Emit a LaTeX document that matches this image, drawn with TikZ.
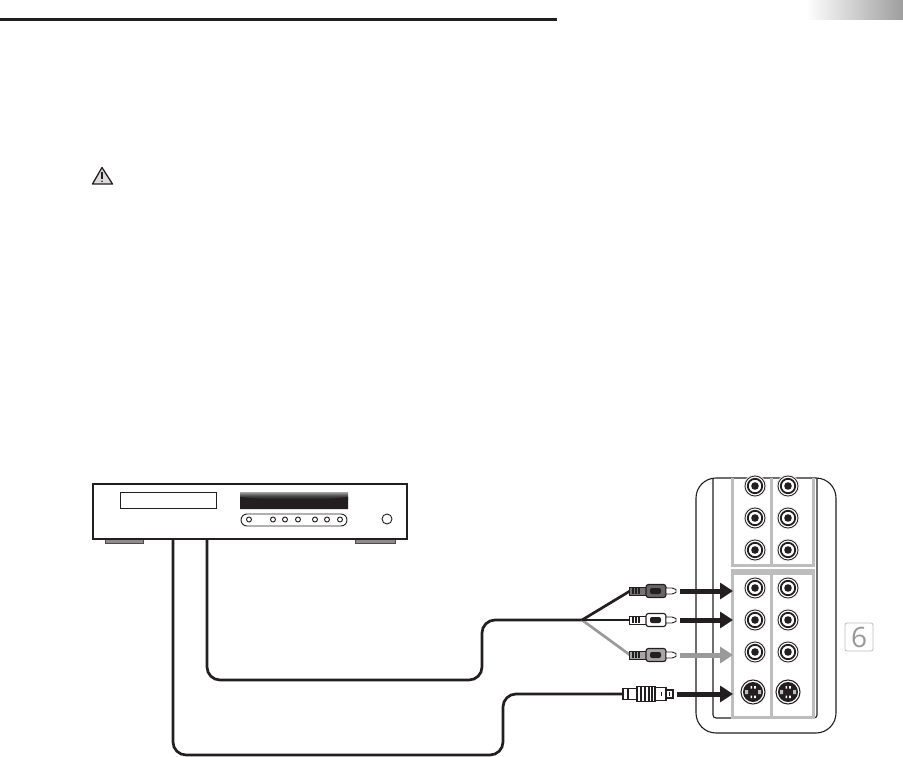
\documentclass[tikz,border=0pt]{standalone}
\usepackage{fontspec}
\setmainfont{Open Sans}
\usetikzlibrary{arrows.meta,calc}
\definecolor{ink}{HTML}{231F20}
\definecolor{panelgrey}{HTML}{BDBDBD}
\definecolor{arrowgrey}{HTML}{9A9A9A}
\tikzset{
  x=1pt,y=-1pt,
  box/.style={draw=ink,fill=white,inner sep=0pt,outer sep=0pt,anchor=north west},
  cable/.style={draw=ink,line width=2.7pt,rounded corners=13pt},
  plugarrow/.style={draw=#1,line width=5pt,-{Triangle[length=13pt,width=16pt]}},
  panelline/.style={draw=panelgrey,line width=3pt},
  pics/rca/.style args={#1/#2/#3}{code={
    \fill[#1,draw=ink,line width=.8pt] (-17,-4) rectangle (0,4);
    \foreach \i in {-13,-10,-7}{\draw[ink,line width=1.1pt] (\i,-3) -- (\i,3);}
    \draw[ink,fill=#2,line width=1.1pt,rounded corners=2.5pt] (0,-6.5) rectangle (20,6.5);
    \fill[#3,rounded corners=2pt] (4,-3) rectangle (15,3);
    \draw[ink,fill=white,line width=.9pt] (20,-3) -- (26,-3) -- (30,-1.5) -- (30,1.5) -- (26,3) -- (20,3) -- cycle;
  }},
  jack/.pic={
    \fill[black!8] (0,0) circle (11.5);
    \draw[ink,line width=.8pt,fill=white] (0,0) circle (10);
    \draw[ink,line width=1.8pt,fill=white] (0,0) circle (7.2);
    \fill[ink] (0,0) circle (3.8);
  },
  svideo/.pic={
    \fill[black!8] (0,0) circle (13);
    \draw[ink,line width=1pt,fill=white] (0,0) circle (12);
    \fill[ink] (0,0) circle (10);
    \fill[white!75!black] (-8,-2) rectangle (-5,2) (5,-2) rectangle (8,2);
    \fill[white] (-2.5,-6) rectangle (-.8,-3.5) (1.2,-6) rectangle (2.9,-3.5) (-2.5,3.5) rectangle (-.8,6) (1.2,3.5) rectangle (2.9,6);
  },
}
\begin{document}
\begin{tikzpicture}
\useasboundingbox (0,0) rectangle (903,757);
% header
\coordinate (ruleL) at (0,19.5);
\coordinate (ruleR) at (557,19.5);
\draw[ink,line width=2.2pt] (ruleL) -- (ruleR);
\shade[left color=white,right color=black!38] (806,0) rectangle (903,20);
% warning triangle
\draw[ink,fill=black!14,line width=1.3pt,line join=round] (102,167.5) -- (112.5,184) -- (92.5,184) -- cycle;
\draw[ink,line width=1.5pt] (102,172.5) -- (102,179);
\fill[ink] (102,181.2) circle (.9);
% CD player
\node[box,fill=black!45,draw=black!70,minimum width=38pt,minimum height=4.5pt] (footL) at (105,539) {};
\node[box,fill=black!45,draw=black!70,minimum width=40pt,minimum height=4.5pt] (footR) at (355,539) {};
\node[box,line width=1.3pt,minimum width=314pt,minimum height=55pt] (cd) at (93,484) {};
\node[box,line width=1pt,minimum width=96pt,minimum height=16pt] (display) at (120,492) {};
\shade[top color=black!35,bottom color=ink,middle color=black!70] (240,492) rectangle (348,499);
\fill[ink] (240,497) .. controls (280,501) and (310,501) .. (348,497) -- (348,509) -- (240,509) -- cycle;
\node[box,line width=.9pt,rounded corners=6pt,minimum width=106pt,minimum height=12pt] (pill) at (241,514) {};
\foreach \bx/\bn in {249/a,273/b,285/c,298/d,315/e,327/f,340/g}
  \node[circle,draw=ink,fill=white,line width=.9pt,inner sep=0pt,minimum size=5pt] (btn\bn) at (\bx,519.5) {};
\node[circle,draw=ink,fill=white,line width=.9pt,inner sep=0pt,minimum size=10pt] (knob) at (387,519) {};
% input panel
\node[box,line width=1.1pt,rounded corners=20pt,minimum width=140pt,minimum height=255pt] (panel) at (696,478) {};
\draw[ink,line width=1.1pt,rounded corners=3pt] (713,478) -- (713,718) -- (817,718) -- (817,478);
\draw[panelline] (732.5,478) -- (732.5,565) -- (813,565) -- (813,478);
\draw[panelline] (771,478) -- (771,565);
\fill[panelgrey] (731,569) rectangle (815,575);
\draw[panelline] (732.5,571) -- (732.5,717) -- (813,717) -- (813,571);
\draw[panelline] (771,571) -- (771,717);
\foreach \jy in {486,518,550,588,620,652}{
  \pic at (755,\jy) {jack};
  \pic at (788,\jy) {jack};
}
\pic at (753,692) {svideo};
\pic at (788,692) {svideo};
% connectors
\coordinate (outA) at (207,539.5);
\coordinate (outB) at (173,539.5);
\coordinate (split) at (582,620);
\coordinate (plugTop) at (630,591);
\coordinate (plugMid) at (630,620);
\coordinate (plugLow) at (630,655);
\coordinate (plugS) at (624,694);
\draw[cable] (outA) -- (207,680) -- (482,680) -- (482,620) -- (split);
\draw[cable] (outB) -- (173,755) -- (503,755) -- (503,694) -- (plugS);
\draw[draw=arrowgrey,line width=2.7pt] (split) -- (plugLow);
\draw[draw=ink,line width=2.7pt] (split) -- (plugMid);
\draw[draw=ink,line width=2.7pt] (split) -- (plugTop);
% plugs
\pic at (646,591) {rca={black!55/black!60/ink}};
\pic at (646,620) {rca={white/white/ink}};
\pic at (646,655) {rca={black!35/black!35/ink}};
% s-video plug
\node[box,line width=1.1pt,minimum width=14pt,minimum height=11pt] (sa) at (623,688.5) {};
\draw[ink,line width=1.1pt] (628,689) -- (628,699);
\node[box,line width=1.1pt,minimum width=18pt,minimum height=15pt] (sb) at (637,686.5) {};
\foreach \rx in {641,645,649,652}{\draw[ink,line width=1.2pt] (\rx,687) -- (\rx,701);}
\node[box,line width=1.1pt,minimum width=11pt,minimum height=13pt] (sc) at (655,687.5) {};
\node[box,line width=1.1pt,minimum width=7pt,minimum height=8pt] (sd) at (666,690) {};
\draw[ink,line width=.8pt] (661,692) -- (661,696) (669.5,692) -- (669.5,696);
% arrows
\coordinate (a1s) at (680,591); \coordinate (a1e) at (733,591);
\coordinate (a2s) at (680,620); \coordinate (a2e) at (733,620);
\coordinate (a3s) at (680,655); \coordinate (a3e) at (733,655);
\coordinate (a4s) at (677,694); \coordinate (a4e) at (733,694);
\draw[plugarrow=ink] (a1s) -- (a1e);
\draw[plugarrow=ink] (a2s) -- (a2e);
\draw[plugarrow=arrowgrey] (a3s) -- (a3e);
\draw[plugarrow=ink] (a4s) -- (a4e);
% page number
\node[box,draw=black!25,line width=.8pt,rounded corners=2pt,minimum width=28pt,minimum height=28pt,text=black!40,font=\fontsize{28}{28}\selectfont,anchor=center] (page) at (859,637) {6};
\end{tikzpicture}
\end{document}
